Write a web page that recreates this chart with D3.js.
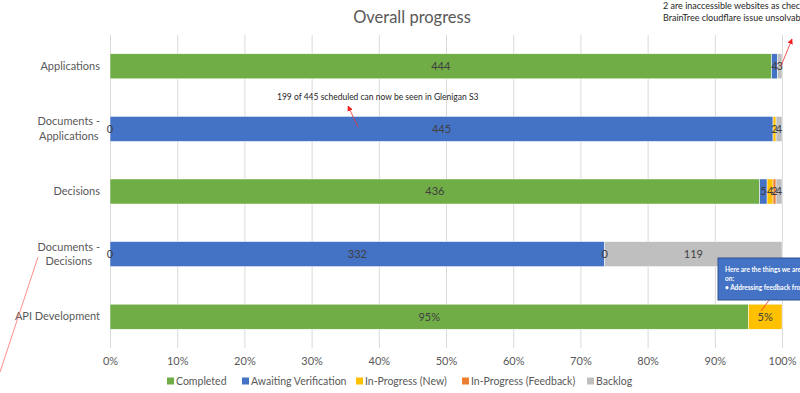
<!DOCTYPE html>
<html>
<head>
<meta charset="utf-8">
<script src="https://cdn.jsdelivr.net/npm/d3@7"></script>
<style>
  html, body { margin: 0; padding: 0; background: #fff; overflow: hidden; }
  svg { display: block; font-family: Lato, "Liberation Sans", sans-serif; }
</style>
</head>
<body>
<div id="chart"></div>
<script>
// Overall progress - 100% stacked bars

const categories = ["Applications", "Documents - Applications", "Decisions", "Documents - Decisions", "API Development"];
const seriesNames = ["Completed", "Awaiting Verification", "In-Progress (New)", "In-Progress (Feedback)", "Backlog"];
const seriesColors = ["#70AD47", "#4472C4", "#FFC000", "#ED7D31", "#BFBFBF"];

// null = no value in the sheet (no label drawn)
const completed = [444, 0, 436, 0, 95];
const awaiting = [4, 445, 5, 332, null];
const inProgressNew = [null, 2, 4, 0, 5];
const inProgressFeedback = [null, null, 2, null, null];
const backlog = [3, 4, 4, 119, null];
const labelSuffix = ["", "", "", "", "%"];

const xTickValues = [0, 0.1, 0.2, 0.3, 0.4, 0.5, 0.6, 0.7, 0.8, 0.9, 1];

const width = 800, height = 393;
const margin = [35, 45, 110, 18]; // top, bottom, left, right

const series = [completed, awaiting, inProgressNew, inProgressFeedback, backlog];
const rows = categories.map((c, i) => {
    let r = { cat: c, i: i };
    seriesNames.forEach((s, j) => r[s] = series[j][i]);
    return r;
});

const svg = d3.select('#chart').append('svg')
    .attr('width', width)
    .attr('height', height);

const x = d3.scaleLinear()
    .domain([0, 1])
    .range([margin[2], width - margin[3]]);

const y = d3.scaleBand()
    .domain(categories)
    .range([margin[0], height - margin[1]])
    .paddingInner(0.6)
    .paddingOuter(0.3);

// title
svg.append('text')
    .attr('x', 412)
    .attr('y', 23)
    .attr('text-anchor', 'middle')
    .attr('font-size', 16.5)
    .attr('fill', '#595959')
    .text('Overall progress');

// x axis + gridlines
const axisX = svg.append('g')
    .attr('transform', `translate(0, ${height - margin[1]})`)
    .call(d3.axisBottom(x)
        .tickValues(xTickValues)
        .tickFormat(d3.format('.0%'))
        .tickSize(-(height - margin[0] - margin[1]))
        .tickPadding(9));
axisX.select('.domain').remove();
axisX.selectAll('.tick line').attr('stroke', '#D9D9D9');
axisX.selectAll('.tick text')
    .attr('fill', '#595959')
    .attr('font-size', 11)
    .attr('font-family', 'Lato, sans-serif');

// y axis (category labels, wrapped on " - " and centred like Excel does)
const axisY = svg.append('g')
    .attr('transform', `translate(${margin[2] - 10}, 0)`)
    .call(d3.axisLeft(y).tickSize(0).tickPadding(0));
axisY.select('.domain').remove();
axisY.selectAll('.tick text')
    .attr('fill', '#595959')
    .attr('font-size', 11)
    .attr('font-family', 'Lato, sans-serif')
    .each(function (d) {
        const parts = d.split(' - ');
        if (parts.length < 2) return;
        const t = d3.select(this).text(null);
        const a = t.append('tspan').attr('dy', '-0.32em').text(parts[0] + ' -');
        const b = t.append('tspan').attr('dy', '1.3em').text(parts[1]);
        const w = Math.max(a.node().getComputedTextLength(), b.node().getComputedTextLength());
        t.attr('text-anchor', 'middle');
        a.attr('x', -w / 2);
        b.attr('x', -w / 2);
    });

// stacked bars
const stack = d3.stack()
    .keys(seriesNames)
    .value((d, k) => d[k] || 0)
    .offset(d3.stackOffsetExpand);
const stacked = stack(rows);

svg.append('g').selectAll('g')
    .data(stacked)
    .join('g')
    .attr('fill', (d, i) => seriesColors[i])
    .selectAll('rect')
    .data(d => d)
    .join('rect')
    .attr('x', d => x(d[0]))
    .attr('y', d => y(d.data.cat))
    .attr('width', d => x(d[1]) - x(d[0]))
    .attr('height', y.bandwidth())
    .attr('stroke', '#fff')
    .attr('stroke-width', 0.5);

// data labels (on top of all bars)
const labels = svg.append('g');
stacked.forEach(layer => {
    labels.append('g').selectAll('text')
        .data(layer.filter(d => d.data[layer.key] != null))
        .join('text')
        .attr('x', d => (x(d[0]) + x(d[1])) / 2)
        .attr('y', d => y(d.data.cat) + y.bandwidth() / 2)
        .attr('dy', '0.36em')
        .attr('text-anchor', 'middle')
        .attr('font-size', 11)
        .attr('fill', '#404040')
        .text(d => d.data[layer.key] + labelSuffix[d.data.i]);
});

// legend
const legendX = [167, 242, 356, 462, 587];
const legend = svg.append('g').selectAll('g')
    .data(seriesNames)
    .join('g')
    .attr('transform', (d, i) => `translate(${legendX[i]}, 381)`);
legend.append('rect')
    .attr('x', 0).attr('y', -3.5)
    .attr('width', 7).attr('height', 7)
    .attr('fill', (d, i) => seriesColors[i]);
legend.append('text')
    .attr('x', 9)
    .attr('dy', '0.36em')
    .attr('font-size', 10.5)
    .attr('fill', '#595959')
    .text(d => d);

// annotations
const defs = svg.append('defs');
defs.append('marker')
    .attr('id', 'arrow')
    .attr('viewBox', '0 0 10 10')
    .attr('refX', 9).attr('refY', 5)
    .attr('markerWidth', 7).attr('markerHeight', 7)
    .attr('orient', 'auto')
    .append('path')
    .attr('d', 'M0,0 L10,5 L0,10 z')
    .attr('fill', '#f02020');

const notes = svg.append('g').attr('fill', '#262626');

notes.append('text').attr('x', 663).attr('y', 9).attr('font-size', 9)
    .text('2 are inaccessible websites as checked');
notes.append('text').attr('x', 663).attr('y', 21).attr('font-size', 9)
    .text('BrainTree cloudflare issue unsolvable');
notes.append('text').attr('x', 277).attr('y', 100).attr('font-size', 8.5)
    .text('199 of 445 scheduled can now be seen in Glenigan S3');

const arrows = [
    [781, 66, 792, 39],
    [358, 127, 348, 106],
    [761, 311, 773, 295]
];
svg.append('g').selectAll('line')
    .data(arrows)
    .join('line')
    .attr('x1', d => d[0]).attr('y1', d => d[1])
    .attr('x2', d => d[2]).attr('y2', d => d[3])
    .attr('stroke', '#f03030')
    .attr('stroke-width', 0.8)
    .attr('marker-end', 'url(#arrow)');

svg.append('line')
    .attr('x1', 0).attr('y1', 372)
    .attr('x2', 38).attr('y2', 257)
    .attr('stroke', '#ff7070')
    .attr('stroke-width', 0.8);

// callout box
const box = svg.append('g').attr('transform', 'translate(718, 258)');
box.append('rect')
    .attr('width', 100).attr('height', 42)
    .attr('fill', '#4472C4')
    .attr('stroke', '#2F528F')
    .attr('stroke-width', 1);
const boxText = box.append('text')
    .attr('font-size', 6.5)
    .attr('font-weight', 'bold')
    .attr('fill', '#fff');
['Here are the things we are working', 'on:', '\u2022 Addressing feedback from users']
    .forEach((s, i) => boxText.append('tspan').attr('x', 7).attr('y', 14 + i * 9).text(s));
</script>
</body>
</html>
